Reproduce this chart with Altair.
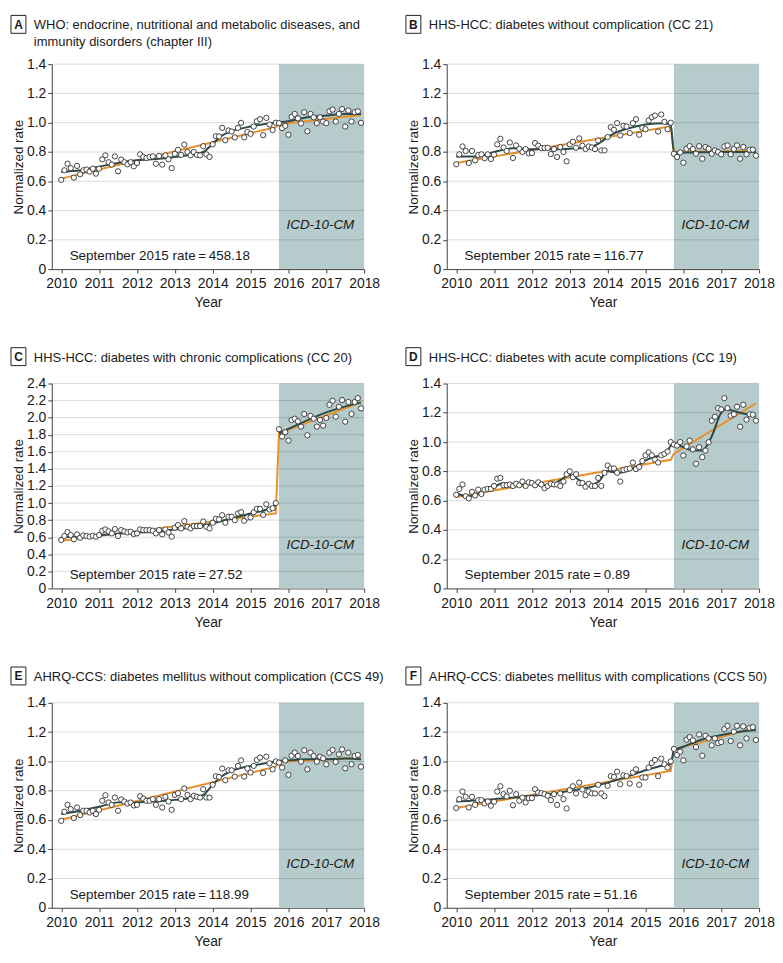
import altair as alt
import pandas as pd

# ---------------- data ----------------
months = [2010 + i / 12 for i in range(96)]

vals_a = [0.61, 0.675, 0.72, 0.69, 0.625, 0.705, 0.648, 0.675, 0.68, 0.666, 0.686, 0.652,
          0.686, 0.75, 0.777, 0.73, 0.714, 0.77, 0.668, 0.748, 0.73, 0.716, 0.73, 0.702,
          0.725, 0.784, 0.766, 0.759, 0.766, 0.77, 0.72, 0.773, 0.714, 0.777, 0.75, 0.69,
          0.788, 0.815, 0.78, 0.85, 0.80, 0.777, 0.80, 0.78, 0.777, 0.84, 0.784, 0.766,
          0.852, 0.908, 0.906, 0.965, 0.88, 0.947, 0.94, 0.90, 0.965, 0.999, 0.90, 0.936,
          0.924, 0.974, 1.01, 1.024, 0.915, 1.033, 0.988, 0.95, 1.0, 0.997, 0.963, 0.979,
          0.918, 1.04, 1.06, 1.03, 0.995, 1.072, 0.942, 1.06, 1.037, 0.997, 1.037, 1.008,
          0.997, 1.078, 1.09, 1.008, 1.06, 1.094, 0.974, 1.083, 1.008, 1.072, 1.078, 0.999]
vals_b = [0.716, 0.784, 0.838, 0.807, 0.725, 0.807, 0.743, 0.779, 0.784, 0.757, 0.784, 0.752,
          0.782, 0.852, 0.89, 0.831, 0.807, 0.865, 0.759, 0.845, 0.822, 0.80, 0.82, 0.79,
          0.793, 0.861, 0.843, 0.827, 0.827, 0.829, 0.786, 0.82, 0.766, 0.834, 0.80, 0.736,
          0.852, 0.87, 0.829, 0.893, 0.843, 0.82, 0.838, 0.831, 0.82, 0.879, 0.811, 0.811,
          0.902, 0.97, 0.952, 0.997, 0.913, 0.979, 0.974, 0.929, 0.997, 1.024, 0.918, 0.965,
          0.956, 1.015, 1.038, 1.049, 0.94, 1.056, 1.006, 0.956, 1.0, 0.788, 0.766, 0.797,
          0.727, 0.822, 0.84, 0.82, 0.788, 0.84, 0.754, 0.834, 0.822, 0.788, 0.811, 0.80,
          0.784, 0.838, 0.845, 0.784, 0.82, 0.845, 0.754, 0.834, 0.784, 0.816, 0.816, 0.775]
vals_c = [0.567, 0.614, 0.66, 0.625, 0.575, 0.633, 0.594, 0.621, 0.614, 0.606, 0.617, 0.606,
          0.625, 0.676, 0.691, 0.668, 0.645, 0.695, 0.614, 0.683, 0.668, 0.656, 0.664, 0.637,
          0.645, 0.691, 0.683, 0.683, 0.683, 0.676, 0.645, 0.683, 0.633, 0.691, 0.656, 0.606,
          0.711, 0.742, 0.703, 0.788, 0.722, 0.703, 0.73, 0.73, 0.73, 0.784, 0.722, 0.703,
          0.769, 0.816, 0.808, 0.858, 0.769, 0.839, 0.839, 0.80, 0.878, 0.893, 0.792, 0.831,
          0.831, 0.893, 0.932, 0.932, 0.862, 0.986, 0.924, 0.94, 1.0, 1.864, 1.779, 1.829,
          1.732, 1.973, 1.988, 1.957, 1.895, 2.043, 1.794, 2.02, 1.988, 1.895, 1.973, 1.907,
          1.996, 2.151, 2.198, 2.012, 2.128, 2.206, 1.953, 2.183, 2.043, 2.183, 2.229, 2.109]
vals_d = [0.64, 0.68, 0.71, 0.63, 0.615, 0.66, 0.635, 0.675, 0.645, 0.675, 0.68, 0.68,
          0.70, 0.75, 0.755, 0.705, 0.705, 0.71, 0.70, 0.715, 0.705, 0.73, 0.70, 0.725,
          0.72, 0.705, 0.725, 0.71, 0.685, 0.70, 0.715, 0.71, 0.71, 0.70, 0.73, 0.78,
          0.80, 0.76, 0.78, 0.72, 0.72, 0.695, 0.715, 0.70, 0.70, 0.755, 0.70, 0.79,
          0.84, 0.82, 0.82, 0.79, 0.73, 0.81, 0.815, 0.82, 0.86, 0.815, 0.83, 0.87,
          0.91, 0.93, 0.91, 0.88, 0.86, 0.91, 0.92, 0.935, 1.0, 0.983, 0.976, 1.0,
          0.908, 0.97, 1.01, 0.95, 0.852, 0.965, 0.897, 0.942, 0.999, 1.146, 1.173, 1.232,
          1.223, 1.30, 1.232, 1.18, 1.19, 1.241, 1.105, 1.255, 1.153, 1.19, 1.187, 1.146]
vals_e = [0.594, 0.656, 0.703, 0.674, 0.613, 0.685, 0.633, 0.663, 0.663, 0.651, 0.663, 0.64,
          0.669, 0.731, 0.769, 0.719, 0.703, 0.753, 0.663, 0.74, 0.726, 0.712, 0.719, 0.699,
          0.703, 0.762, 0.746, 0.731, 0.731, 0.742, 0.703, 0.742, 0.685, 0.758, 0.726, 0.669,
          0.771, 0.783, 0.742, 0.815, 0.771, 0.742, 0.765, 0.758, 0.753, 0.81, 0.753, 0.753,
          0.84, 0.899, 0.894, 0.951, 0.871, 0.939, 0.939, 0.896, 0.969, 1.007, 0.896, 0.951,
          0.924, 0.969, 1.01, 1.026, 0.921, 1.032, 0.987, 0.946, 1.0, 0.992, 0.958, 1.007,
          0.908, 1.039, 1.06, 1.037, 0.998, 1.076, 0.946, 1.06, 1.037, 0.998, 1.032, 1.021,
          0.98, 1.06, 1.078, 0.996, 1.048, 1.082, 0.953, 1.06, 0.98, 1.037, 1.044, 0.964]
vals_f = [0.681, 0.742, 0.794, 0.758, 0.685, 0.758, 0.703, 0.735, 0.735, 0.712, 0.726, 0.697,
          0.724, 0.794, 0.83, 0.776, 0.76, 0.799, 0.70, 0.776, 0.731, 0.753, 0.719, 0.749,
          0.749, 0.81, 0.787, 0.783, 0.776, 0.765, 0.735, 0.776, 0.703, 0.781, 0.742, 0.678,
          0.803, 0.83, 0.781, 0.855, 0.808, 0.769, 0.794, 0.781, 0.781, 0.84, 0.781, 0.762,
          0.833, 0.899, 0.894, 0.93, 0.844, 0.905, 0.90, 0.849, 0.924, 0.946, 0.84, 0.89,
          0.89, 0.958, 0.989, 1.01, 0.899, 1.019, 0.98, 0.958, 1.0, 1.085, 1.044, 1.066,
          1.007, 1.148, 1.166, 1.144, 1.098, 1.184, 1.039, 1.175, 1.157, 1.11, 1.157, 1.125,
          1.132, 1.221, 1.243, 1.139, 1.203, 1.243, 1.11, 1.239, 1.157, 1.23, 1.234, 1.146]

# smooth (dark) curve, read at knots: (year, value, segment)
smooth_a = [(2010, 0.664, 0), (2010.5, 0.675, 0), (2011, 0.70, 0), (2011.5, 0.725, 0), (2012, 0.743, 0),
            (2012.5, 0.752, 0), (2013, 0.766, 0), (2013.5, 0.784, 0), (2013.75, 0.80, 0), (2014, 0.856, 0),
            (2014.25, 0.913, 0), (2014.5, 0.942, 0), (2015, 0.974, 0), (2015.5, 0.997, 0), (2016, 1.01, 0),
            (2016.5, 1.037, 0), (2017, 1.049, 0), (2017.5, 1.06, 0), (2017.917, 1.06, 0)]
smooth_b = [(2010, 0.77, 0), (2010.6, 0.77, 0), (2011, 0.80, 0), (2011.5, 0.825, 0), (2012, 0.818, 0),
            (2012.5, 0.818, 0), (2013, 0.822, 0), (2013.5, 0.834, 0), (2013.75, 0.856, 0), (2014, 0.902, 0),
            (2014.25, 0.936, 0), (2014.5, 0.958, 0), (2015, 0.988, 0), (2015.5, 0.997, 0), (2015.667, 0.985, 0),
            (2015.75, 0.80, 0), (2016, 0.797, 0), (2017, 0.80, 0), (2017.917, 0.80, 0)]
smooth_c = [(2010, 0.598, 0), (2011, 0.625, 0), (2012, 0.656, 0), (2012.5, 0.664, 0), (2013, 0.691, 0),
            (2013.5, 0.715, 0), (2014, 0.761, 0), (2014.5, 0.819, 0), (2015, 0.878, 0), (2015.5, 0.936, 0),
            (2015.667, 0.975, 0),
            (2015.75, 1.817, 1), (2016, 1.868, 1), (2017, 2.062, 1), (2017.917, 2.179, 1)]
smooth_d = [(2010, 0.652, 0), (2010.3, 0.628, 0), (2010.5, 0.637, 0), (2011, 0.693, 0), (2011.25, 0.72, 0),
            (2011.5, 0.716, 0), (2012, 0.711, 0), (2012.5, 0.705, 0), (2012.75, 0.74, 0), (2013, 0.775, 0),
            (2013.25, 0.74, 0), (2013.5, 0.705, 0), (2013.75, 0.727, 0), (2014, 0.80, 0), (2014.25, 0.79, 0),
            (2014.5, 0.80, 0), (2014.75, 0.83, 0), (2015, 0.874, 0), (2015.25, 0.90, 0), (2015.5, 0.908, 0),
            (2015.667, 0.975, 0), (2015.75, 0.983, 0), (2016, 0.965, 0), (2016.25, 0.942, 0), (2016.5, 0.942, 0),
            (2016.75, 1.04, 0), (2017, 1.20, 0), (2017.1, 1.222, 0), (2017.5, 1.20, 0), (2017.917, 1.175, 0)]
smooth_e = [(2010, 0.64, 0), (2010.5, 0.663, 0), (2011, 0.69, 0), (2011.5, 0.72, 0), (2012, 0.72, 0),
            (2012.5, 0.726, 0), (2013, 0.737, 0), (2013.5, 0.753, 0), (2013.75, 0.771, 0), (2014, 0.84, 0),
            (2014.25, 0.90, 0), (2014.5, 0.935, 0), (2015, 0.969, 0), (2015.5, 0.992, 0), (2015.75, 1.003, 0),
            (2016, 1.007, 0), (2016.5, 1.014, 0), (2017, 1.014, 0), (2017.5, 1.019, 0), (2017.917, 1.014, 0)]
smooth_f = [(2010, 0.726, 0), (2011, 0.742, 0), (2012, 0.765, 0), (2012.5, 0.776, 0), (2013, 0.799, 0),
            (2013.5, 0.821, 0), (2014, 0.855, 0), (2014.5, 0.894, 0), (2015, 0.939, 0), (2015.5, 0.975, 0),
            (2015.667, 0.985, 0), (2015.75, 1.075, 0), (2016, 1.10, 0), (2016.5, 1.15, 0), (2017, 1.18, 0),
            (2017.5, 1.203, 0), (2017.917, 1.214, 0)]

# segmented regression (orange) break points
trend_a = [(2010, 0.618), (2015.667, 0.97), (2015.75, 0.99), (2017.917, 1.052)]
trend_b = [(2010, 0.725), (2015.667, 0.975), (2015.75, 0.80), (2017.917, 0.81)]
trend_c = [(2010, 0.559), (2015.667, 0.878), (2015.75, 1.817), (2017.917, 2.179)]
trend_d = [(2010, 0.625), (2015.667, 0.879), (2015.75, 0.92), (2017.917, 1.264)]
trend_e = [(2010, 0.601), (2015.667, 0.964), (2015.75, 0.996), (2017.917, 1.026)]
trend_f = [(2010, 0.681), (2015.667, 0.935), (2015.75, 1.082), (2017.917, 1.23)]

letters = ["A", "B", "C", "D", "E", "F"]
titles = ["WHO: endocrine, nutritional and metabolic diseases, and\nimmunity disorders (chapter III)",
          "HHS-HCC: diabetes without complication (CC 21)",
          "HHS-HCC: diabetes with chronic complications (CC 20)",
          "HHS-HCC: diabetes with acute complications (CC 19)",
          "AHRQ-CCS: diabetes mellitus without complication (CCS 49)",
          "AHRQ-CCS: diabetes mellitus with complications (CCS 50)"]
sept_rates = ["458.18", "116.77", "27.52", "0.89", "118.99", "51.16"]
y_max = [1.4, 1.4, 2.4, 1.4, 1.4, 1.4]
icd_start, icd_end = 2015.75, 2018
x_ticks = [2010, 2011, 2012, 2013, 2014, 2015, 2016, 2017, 2018]

# ---------------- style ----------------
W, H = 314, 206
FONT = "Liberation Sans"
SHADE = "#b5cbcc"
ORANGE = "#e8912b"
DARK = "#2c4b48"
TXT = "#1a1a1a"


def panel(i, vals, smooth, trend):
    ymax = y_max[i]
    n_ticks = int(round(ymax / 0.2))
    y_ticks = [round(k * 0.2, 1) for k in range(n_ticks + 1)]
    xs = alt.Scale(domain=[2009.75, 2018], nice=False, zero=False)
    ys = alt.Scale(domain=[0, ymax], nice=False, zero=True)
    xax = alt.Axis(values=x_ticks, tickCount=len(x_ticks), format="d", title="Year", grid=False,
                   tickSize=4, labelPadding=4, titlePadding=5, labelFlush=False, labelOverlap=False)
    yax = alt.Axis(values=y_ticks, tickCount=len(y_ticks), title="Normalized rate", grid=False,
                   tickSize=4, labelPadding=2, titlePadding=1, titleFontSize=13.5, labelOverlap=False,
                   labelExpr="datum.value == 0 ? '0' : format(datum.value, '.1f')")

    def X(f="year"):
        return alt.X(f"{f}:Q", scale=xs, axis=xax)

    def Y(f="rate"):
        return alt.Y(f"{f}:Q", scale=ys, axis=yax)

    shade_df = pd.DataFrame({"year": [icd_start], "year2": [icd_end], "rate": [0], "rate2": [ymax]})
    shade = alt.Chart(shade_df).mark_rect(color=SHADE).encode(
        x=X(), x2="year2", y=Y(), y2="rate2")

    grid = alt.Chart(pd.DataFrame({"rate": y_ticks[1:]})).mark_rule(
        color="black", opacity=0.14, strokeWidth=1).encode(y=Y())

    tr_df = pd.DataFrame(trend, columns=["year", "rate"])
    orange = alt.Chart(tr_df).mark_line(color=ORANGE, strokeWidth=2).encode(x=X(), y=Y())

    sm_df = pd.DataFrame(smooth, columns=["year", "rate", "seg"])
    dark = alt.Chart(sm_df).mark_line(color=DARK, strokeWidth=2, interpolate="monotone").encode(
        x=X(), y=Y(), detail="seg:N")

    pt_df = pd.DataFrame({"year": months, "rate": vals})
    points = alt.Chart(pt_df).mark_point(shape="circle", filled=True, fill="white", stroke="#303030",
                                         strokeWidth=0.9, size=28, opacity=1).encode(x=X(), y=Y())

    ann = pd.DataFrame({"letter": [letters[i]], "title": [titles[i]],
                        "rate_txt": ["September 2015 rate\u2009=\u2009" + sept_rates[i]],
                        "icd": ["ICD-10-CM"]})
    top_row = i < 2
    base_y = -35 if top_row else -22
    box_top = base_y - 14
    rate_text = alt.Chart(ann).mark_text(align="left", baseline="alphabetic", fontSize=13.5, color=TXT).encode(
        text="rate_txt:N", x=alt.value(18), y=alt.value(197))
    icd_text = alt.Chart(ann).mark_text(align="center", baseline="middle", fontSize=13.5, fontStyle="italic",
                                        color=TXT).encode(
        text="icd:N", x=alt.value(270), y=alt.value(162))
    box = alt.Chart(ann).mark_rect(fill="white", stroke="#222", strokeWidth=1).encode(
        x=alt.value(-41), x2=alt.value(-26), y=alt.value(box_top), y2=alt.value(box_top + 18))
    letter = alt.Chart(ann).mark_text(align="center", baseline="middle", fontSize=12, fontWeight="bold",
                                      color=TXT).encode(
        text="letter:N", x=alt.value(-33.5), y=alt.value(box_top + 9.5))
    title = alt.Chart(ann).mark_text(align="left", baseline="alphabetic", fontSize=13, color=TXT,
                                     lineBreak="\n", lineHeight=17).encode(
        text="title:N", x=alt.value(-18), y=alt.value(base_y))

    return alt.layer(shade, grid, orange, dark, points, rate_text, icd_text, box, letter, title).properties(
        width=W, height=H)


panels = [panel(0, vals_a, smooth_a, trend_a), panel(1, vals_b, smooth_b, trend_b),
          panel(2, vals_c, smooth_c, trend_c), panel(3, vals_d, smooth_d, trend_d),
          panel(4, vals_e, smooth_e, trend_e), panel(5, vals_f, smooth_f, trend_f)]

chart = alt.concat(*panels, columns=2, spacing={"row": 37, "column": 21}).properties(
    padding={"left": 2, "top": 4, "right": 0, "bottom": 0}
).configure(font=FONT).configure_view(stroke=None).configure_axis(
    domainColor="#444", tickColor="#444", labelColor=TXT, titleColor=TXT,
    labelFontSize=14, titleFontSize=14, titleFontWeight="normal", labelFont=FONT, titleFont=FONT
)

chart.save("out.html", embed_options={"renderer": "svg", "actions": False})
